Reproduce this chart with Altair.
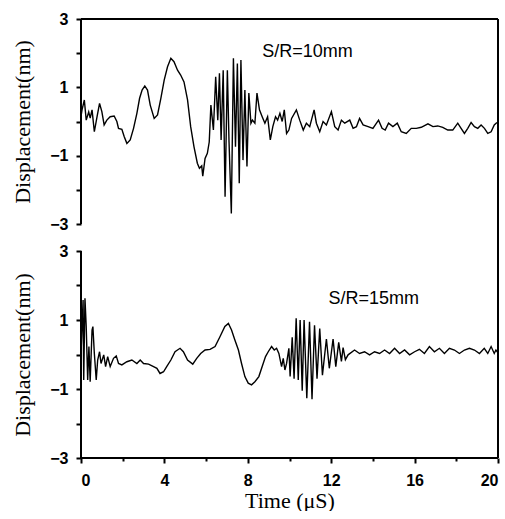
import altair as alt
import pandas as pd

# ---- data ----
top_t = [0.00, 0.05, 0.16, 0.25, 0.37, 0.44, 0.53, 0.64, 0.77, 0.89, 1.00, 1.11, 1.24, 1.40,
         1.59, 1.72, 1.80, 1.96, 2.07, 2.20, 2.36, 2.52, 2.68, 2.81, 2.93, 3.06, 3.19, 3.32,
         3.51, 3.67, 3.83, 3.99, 4.15, 4.31, 4.46, 4.63, 4.78, 4.94, 5.11, 5.26, 5.42, 5.58,
         5.68, 5.79, 5.84, 5.95, 6.06, 6.15, 6.23, 6.35, 6.46, 6.56, 6.64, 6.72, 6.82, 6.91,
         7.02, 7.10, 7.21, 7.31, 7.41, 7.50, 7.59, 7.67, 7.77, 7.86, 7.96, 8.05, 8.15, 8.22,
         8.34, 8.44, 8.56, 8.69, 8.82, 8.95, 9.08, 9.20, 9.33, 9.43, 9.54, 9.65, 9.75, 9.86,
         9.97, 10.10, 10.33, 10.49, 10.66, 10.81, 10.97, 11.18, 11.29, 11.45, 11.61, 11.77,
         12.01, 12.17, 12.33, 12.49, 12.65, 12.89, 13.05, 13.21, 13.36, 13.53, 13.77, 14.00,
         14.27, 14.44, 14.59, 14.75, 14.96, 15.17, 15.36, 15.60, 15.84, 16.08, 16.32, 16.64,
         16.88, 17.11, 17.35, 17.59, 17.83, 18.07, 18.23, 18.39, 18.55, 18.71, 18.87, 19.03,
         19.19, 19.35, 19.51, 19.67, 19.82, 19.95]
top_v = [0.15, 0.34, 0.63, 0.04, 0.28, 0.10, 0.34, -0.30, 0.14, 0.53, 0.29, -0.10, 0.04, 0.14,
         0.16, 0.00, -0.20, -0.23, -0.44, -0.64, -0.54, -0.20, 0.24, 0.68, 0.92, 1.04, 0.92, 0.48,
         0.09, 0.19, 0.68, 1.21, 1.60, 1.85, 1.75, 1.50, 1.36, 1.16, 0.63, -0.15, -0.74, -1.22,
         -1.37, -1.30, -1.60, -1.08, -0.93, -0.60, 0.48, -0.25, 1.31, 0.04, 1.41, -0.54, 1.50, -2.20,
         1.50, -0.60, -2.69, 1.85, -0.74, 1.70, -1.81, 1.80, -1.13, 0.92, -1.32, 0.83, -0.05, 0.04,
         -0.05, 0.83, 0.34, 0.14, -0.05, 0.14, -0.54, -0.15, 0.14, 0.04, 0.24, 0.00, 0.34, -0.35,
         -0.25, 0.09, 0.34, 0.04, -0.25, -0.05, -0.15, 0.34, -0.05, -0.30, 0.00, -0.10,
         0.29, -0.15, -0.25, 0.04, -0.05, 0.04, -0.20, -0.15, 0.09, -0.10, -0.15, -0.20,
         0.04, -0.20, -0.25, -0.05, -0.15, -0.05, -0.30, -0.35, -0.20, -0.20, -0.17, -0.07,
         -0.15, -0.13, -0.17, -0.25, -0.25, -0.05, -0.20, -0.35, -0.20, -0.03, -0.15, -0.20,
         -0.10, -0.20, -0.35, -0.30, -0.10, -0.03]

bot_t = [0.00, 0.10, 0.13, 0.19, 0.25, 0.32, 0.38, 0.44, 0.53, 0.57, 0.64, 0.73, 0.80, 0.89,
         0.96, 1.09, 1.18, 1.28, 1.40, 1.56, 1.69, 1.80, 1.96, 2.20, 2.44, 2.68, 2.84, 3.00,
         3.24, 3.48, 3.64, 3.79, 3.96, 4.11, 4.31, 4.51, 4.75, 4.91, 5.11, 5.36, 5.55, 5.74,
         5.95, 6.19, 6.43, 6.67, 6.90, 7.07, 7.22, 7.38, 7.55, 7.70, 7.86, 8.02, 8.18, 8.34,
         8.53, 8.69, 8.85, 8.98, 9.14, 9.27, 9.38, 9.49, 9.62, 9.70, 9.78, 9.86, 9.97, 10.03,
         10.13, 10.22, 10.32, 10.42, 10.51, 10.61, 10.70, 10.83, 10.96, 11.08, 11.20, 11.32,
         11.45, 11.58, 11.77, 11.91, 12.09, 12.22, 12.36, 12.49, 12.57, 12.68, 12.81, 13.12,
         13.36, 13.60, 13.84, 14.08, 14.32, 14.56, 14.80, 15.04, 15.28, 15.52, 15.76, 16.00,
         16.23, 16.47, 16.71, 16.95, 17.19, 17.43, 17.67, 17.91, 18.15, 18.39, 18.63, 18.87,
         19.11, 19.34, 19.51, 19.67, 19.82, 19.90, 20.00]
bot_v = [0.00, 1.58, -0.74, 1.63, 0.81, -0.74, 0.23, -0.79, 0.71, 0.81, 0.03, -0.74, -0.16, 0.08,
         -0.26, -0.01, -0.35, -0.06, -0.35, -0.11, -0.04, -0.26, -0.30, -0.21, -0.16, -0.26, -0.16, -0.26,
         -0.28, -0.35, -0.40, -0.55, -0.50, -0.35, -0.16, 0.08, 0.18, 0.08, -0.16, -0.28, -0.11, 0.03,
         0.13, 0.15, 0.23, 0.52, 0.81, 0.90, 0.71, 0.42, 0.13, -0.26, -0.64, -0.83, -0.88, -0.79,
         -0.64, -0.35, -0.06, 0.08, 0.23, 0.13, 0.18, 0.03, -0.35, -0.11, -0.45, -0.26, 0.18, -0.64,
         0.50, -0.70, 1.05, -0.74, 1.00, -1.05, 1.00, -1.27, 0.95, -1.30, 0.85, -0.70,
         0.75, -0.60, 0.45, -0.40, 0.45, -0.35, 0.35, -0.20, 0.20, -0.15, -0.01, 0.13,
         0.03, 0.08, -0.01, 0.08, 0.03, 0.13, 0.03, 0.18, 0.03, 0.13, -0.01, 0.08,
         0.15, 0.03, 0.23, 0.08, 0.18, 0.03, 0.18, 0.13, 0.03, 0.13, 0.18, 0.13,
         0.03, 0.18, 0.03, 0.23, 0.03, 0.13, 0.05]

x_ticks = [0, 2, 4, 6, 8, 10, 12, 14, 16, 18, 20]
y_ticks = [-3, -2, -1, 0, 1, 2, 3]
panel_labels = ["S/R=10mm", "S/R=15mm"]
label_t = [10.86, 14.04]
label_v = [2.02, 1.61]
# frame (plot-area border) in data units
frame_x = [0, 20]
frame_y = [-3, 3]

W = 417
SANS = "Liberation Sans"
SERIF = "Liberation Serif"

xs = alt.Scale(domain=[0, 20], nice=False, zero=False)
ys = alt.Scale(domain=[-3, 3], nice=False, zero=False)

left_axis = alt.Axis(
    orient="left", values=y_ticks,
    labelExpr="abs(datum.value) % 2 === 1 ? datum.label : ''",
    title="Displacement(nm)", titleFont=SERIF, titleFontSize=22, titleFontWeight="normal",
    titlePadding=15, labelFont=SANS, labelFontSize=16, labelFontWeight="bold",
    labelPadding=8, tickSize=5, grid=False, domain=False,
    tickColor="black", tickWidth=2, labelColor="black", titleColor="black",
)
bottom_axis = alt.Axis(
    orient="bottom", values=x_ticks,
    labelExpr="datum.value % 4 === 0 ? datum.label : ''",
    tickSize={"condition": {"test": "datum.value % 4 === 0", "value": 5}, "value": 3},
    title="Time (μS)", titleFont=SERIF, titleFontSize=22, titleFontWeight="normal",
    titlePadding=2, labelFont=SANS, labelFontSize=16, labelFontWeight="bold",
    labelPadding=9, grid=False, domain=False,
    tickColor="black", tickWidth=2, labelColor="black", titleColor="black",
)


def panel(t, v, idx, height, bottom):
    df = pd.DataFrame({"t": t, "v": v})
    xaxis = bottom_axis if bottom else None

    def X(field):
        return alt.X(field, scale=xs, axis=xaxis)

    def Y(field):
        return alt.Y(field, scale=ys, axis=left_axis)

    line = alt.Chart(df).mark_line(color="black", strokeWidth=1.4).encode(
        x=X("t:Q"), y=Y("v:Q"))

    # vertical borders (left and right) spanning the y domain
    vdf = pd.DataFrame({"x": frame_x, "y": [frame_y[0]] * 2, "y2": [frame_y[1]] * 2})
    verts = alt.Chart(vdf).mark_rule(color="black", strokeWidth=2).encode(
        x=X("x:Q"), y=Y("y:Q"), y2="y2:Q")
    # horizontal border: top for the upper panel, bottom for the lower one
    hy = frame_y[0] if bottom else frame_y[1]
    hdf = pd.DataFrame({"x": [frame_x[0]], "x2": [frame_x[1]], "y": [hy]})
    horiz = alt.Chart(hdf).mark_rule(color="black", strokeWidth=2).encode(
        x=X("x:Q"), x2="x2:Q", y=Y("y:Q"))

    lab = pd.DataFrame({"t": [label_t[idx]], "v": [label_v[idx]], "label": [panel_labels[idx]]})
    text = alt.Chart(lab).mark_text(font=SANS, fontSize=18, align="center", baseline="middle",
                                    color="black").encode(x=X("t:Q"), y=Y("v:Q"), text="label:N")
    layers = [line, verts, horiz, text]
    if not bottom:
        # right border continues through the gap between the two panels
        gap = alt.Chart(pd.DataFrame({"a": [0]})).mark_rule(color="black", strokeWidth=2).encode(
            x=alt.value(W), y=alt.value(height), y2=alt.value(height + 27))
        layers.append(gap)
    return alt.layer(*layers).properties(width=W, height=height)


top = panel(top_t, top_v, 0, 205, False)
bot = panel(bot_t, bot_v, 1, 207, True)

chart = alt.vconcat(top, bot, spacing=27, bounds="flush").properties(
    padding={"left": 11, "top": 11, "right": 0, "bottom": 0},
    background="white",
).configure_view(strokeWidth=0, strokeOpacity=0)

chart.save("out.html", embed_options={"renderer": "svg", "actions": False})
